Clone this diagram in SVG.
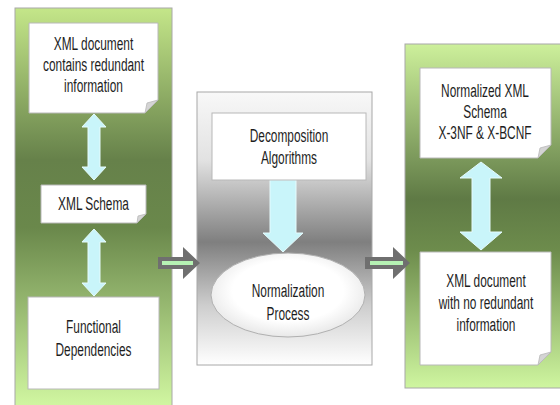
<svg xmlns="http://www.w3.org/2000/svg" width="560" height="405" viewBox="0 0 560 405">
<defs>
<linearGradient id="gLeft" x1="0" y1="0" x2="0" y2="1">
<stop offset="0" stop-color="#c4e689"/>
<stop offset="0.38" stop-color="#66814a"/>
<stop offset="0.55" stop-color="#6a884b"/>
<stop offset="1" stop-color="#d2f8a2"/>
</linearGradient>
<linearGradient id="gRight" x1="0" y1="0" x2="0" y2="1">
<stop offset="0" stop-color="#cdf09b"/>
<stop offset="0.45" stop-color="#5f7a45"/>
<stop offset="0.6" stop-color="#6d8c4c"/>
<stop offset="1" stop-color="#cff6a0"/>
</linearGradient>
<linearGradient id="gMid" x1="0" y1="0" x2="0" y2="1">
<stop offset="0" stop-color="#f8f8f8"/>
<stop offset="0.25" stop-color="#e2e2e2"/>
<stop offset="0.55" stop-color="#7f7f7f"/>
<stop offset="0.78" stop-color="#cdcdcd"/>
<stop offset="1" stop-color="#ffffff"/>
</linearGradient>
<radialGradient id="gEll" cx="0.5" cy="0.45" r="0.6">
<stop offset="0.6" stop-color="#ffffff"/>
<stop offset="1" stop-color="#e2e2e2"/>
</radialGradient>
<style>
.panel{stroke:#a8a8a8;stroke-width:1}
.box{fill:#ffffff;stroke:#b8b8b8;stroke-width:1}
.fold{fill:#d4d4d4;stroke:#b8b8b8;stroke-width:0.8}
.dbl{fill:#c9f5fa;stroke:#e6fbfd;stroke-width:1}
.conn{fill:#6f6f6f}
.connIn{stroke:#b6f2b4;stroke-width:4;fill:none}
text{font-family:"Liberation Sans",Arial,sans-serif;font-size:18px;fill:#1e1e1e;text-anchor:middle}
</style>
</defs>

<!-- panels -->
<rect id="panelLeft" class="panel" x="15" y="8" width="157" height="400" fill="url(#gLeft)"/>
<rect id="panelMid" class="panel" x="197" y="92" width="175" height="273" fill="url(#gMid)"/>
<rect id="panelRight" class="panel" x="405" y="44" width="160" height="344" fill="url(#gRight)"/>

<g id="connectors">
<polygon class="dbl" points="94,114 106,127 100,127 100,167 106,167 94,180 82,167 88,167 88,127 82,127"/>
<polygon class="dbl" points="94,229 106,242 100,242 100,283 106,283 94,296 82,283 88,283 88,242 82,242"/>
<polygon class="dbl" points="283,252 303,233 296,233 296,180 270,180 270,233 263,233"/>
<polygon class="dbl" points="481,162 502,178 490,178 490,232 502,232 481,250 460,232 472,232 472,178 460,178"/>
<polygon class="conn" points="158,257 183,257 183,247 200,263 183,279 183,269 158,269"/>
<line class="connIn" x1="162" y1="263" x2="193" y2="263"/>
<polygon class="conn" points="365,257 393,257 393,247 410,263 393,279 393,269 365,269"/>
<line class="connIn" x1="370" y1="263" x2="403" y2="263"/>
</g>

<g id="xmlDocRedundant">
<path class="box" d="M29,23 H158 V100 L145,113 H29 Z"/>
<path class="fold" d="M158,100 L145,113 L147,103 Z"/>
<text transform="matrix(0.66,0,0,1,93.5,0)"><tspan x="0" y="50">XML document</tspan><tspan x="0" y="71">contains redundant</tspan><tspan x="0" y="92">information</tspan></text>
</g>

<g id="xmlSchema">
<path class="box" d="M41,185 H146 V214 L137,223 H41 Z"/>
<path class="fold" d="M146,214 L137,223 L138,216 Z"/>
<text transform="matrix(0.66,0,0,1,93.5,0)"><tspan x="0" y="210">XML Schema</tspan></text>
</g>

<g id="functionalDependencies">
<rect class="box" x="28" y="297" width="131" height="92"/>
<text transform="matrix(0.66,0,0,1,93.5,0)"><tspan x="0" y="333">Functional</tspan><tspan x="0" y="356">Dependencies</tspan></text>
</g>

<g id="decomposition">
<rect class="box" x="212" y="113" width="154" height="67"/>
<text transform="matrix(0.66,0,0,1,289,0)"><tspan x="0" y="142">Decomposition</tspan><tspan x="0" y="164">Algorithms</tspan></text>
</g>

<g id="normalizationProcess">
<ellipse cx="288" cy="295" rx="77" ry="42" fill="url(#gEll)" stroke="#b0b0b0" stroke-width="1"/>
<text transform="matrix(0.66,0,0,1,288,0)"><tspan x="0" y="297">Normalization</tspan><tspan x="0" y="320">Process</tspan></text>
</g>

<g id="normalizedSchema">
<path class="box" d="M420,68 H551 V145 L538,158 H420 Z"/>
<path class="fold" d="M551,145 L538,158 L540,148 Z"/>
<text transform="matrix(0.66,0,0,1,485,0)"><tspan x="0" y="97">Normalized XML</tspan><tspan x="0" y="118">Schema</tspan><tspan x="0" y="139">X-3NF &amp; X-BCNF</tspan></text>
</g>

<g id="xmlDocNoRedundant">
<path class="box" d="M420,252 H551 V352 L538,365 H420 Z"/>
<path class="fold" d="M551,352 L538,365 L540,355 Z"/>
<text transform="matrix(0.66,0,0,1,486,0)"><tspan x="0" y="287">XML document</tspan><tspan x="0" y="309">with no redundant</tspan><tspan x="0" y="331">information</tspan></text>
</g>
</svg>
